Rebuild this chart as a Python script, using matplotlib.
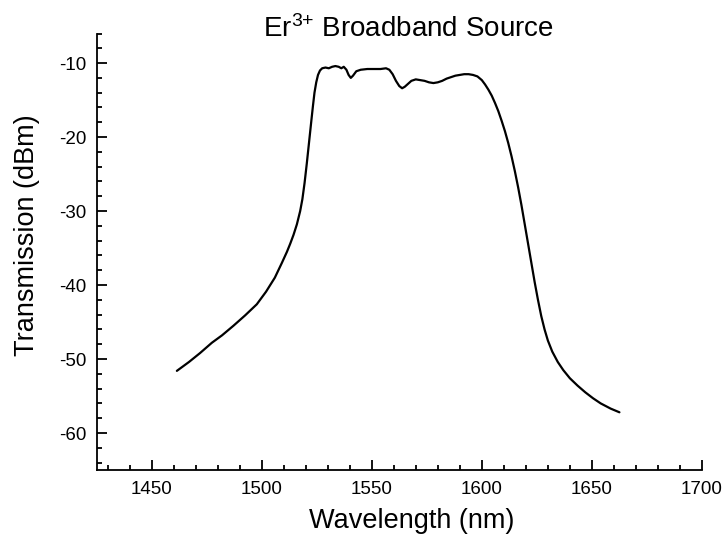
import matplotlib
matplotlib.use("Agg")
import matplotlib.pyplot as plt
from matplotlib.ticker import MultipleLocator

plt.rcParams['font.family'] = ['Liberation Sans', 'DejaVu Sans']
plt.rcParams['mathtext.fontset'] = 'custom'
plt.rcParams['mathtext.rm'] = 'Liberation Sans'
plt.rcParams['mathtext.it'] = 'Liberation Sans:italic'
plt.rcParams['axes.unicode_minus'] = False

# Wavelength (nm) and transmission (dBm)
wavelength = [1461.5, 1467, 1472, 1477.4, 1482, 1487.2, 1492.5, 1497.8, 1502, 1506,
              1509.2, 1511.5, 1513, 1514.5, 1516, 1517.5, 1518.5, 1519.5, 1520.5, 1521.5,
              1522.5, 1523.3, 1524, 1524.8, 1525.6, 1526.5, 1527.5, 1529, 1530.5, 1532,
              1533.5, 1535, 1536.2, 1537.3, 1538.5, 1539.5, 1540.5, 1541.5, 1543, 1545,
              1548, 1551, 1554, 1556.5, 1558, 1559.5, 1561, 1562.5, 1563.8, 1565,
              1566.5, 1568, 1570, 1572, 1574, 1576, 1578, 1580, 1582, 1584,
              1586, 1588, 1590, 1592, 1594, 1596, 1598, 1600, 1601.5, 1603,
              1604.5, 1606, 1607.5, 1609, 1610.5, 1612, 1613.5, 1615, 1616.5, 1618,
              1619.5, 1621, 1622.5, 1624, 1625.5, 1627, 1628.5, 1630, 1632, 1634.5,
              1637, 1640, 1643.5, 1647, 1650.5, 1654, 1658.5, 1662.5]
transmission = [-51.6, -50.4, -49.2, -47.8, -46.8, -45.5, -44.1, -42.6, -40.9, -39.0,
                -37.0, -35.5, -34.4, -33.2, -31.8, -30.0, -28.4, -26.2, -23.6, -20.8,
                -18.0, -15.8, -14.0, -12.6, -11.6, -11.0, -10.7, -10.6, -10.7, -10.5,
                -10.4, -10.5, -10.7, -10.5, -10.9, -11.6, -12.0, -11.7, -11.1, -10.9,
                -10.8, -10.8, -10.8, -10.7, -10.9, -11.5, -12.4, -13.1, -13.4, -13.2,
                -12.8, -12.4, -12.2, -12.3, -12.4, -12.6, -12.7, -12.6, -12.4, -12.1,
                -11.9, -11.7, -11.6, -11.5, -11.5, -11.6, -11.8, -12.3, -12.9, -13.6,
                -14.4, -15.4, -16.5, -17.8, -19.2, -20.8, -22.6, -24.6, -26.8, -29.2,
                -31.8, -34.4, -37.0, -39.6, -42.0, -44.2, -46.0, -47.5, -49.0, -50.4,
                -51.5, -52.6, -53.6, -54.5, -55.3, -56.0, -56.7, -57.2]

title = r'Er$^{3{+}}$ Broadband Source'
xlabel = 'Wavelength (nm)'
ylabel = 'Transmission (dBm)'

fig = plt.figure(figsize=(7.25, 5.35), dpi=100)
ax = fig.add_axes([96.5/725, 1-470/535, (702-96.5)/725, (470-33.5)/535])

ax.plot(wavelength, transmission, color='black', lw=1.6,
        solid_joinstyle='round', solid_capstyle='round')

ax.set_xlim(1425, 1700)
ax.set_ylim(-65, -6)
ax.xaxis.set_major_locator(MultipleLocator(50))
ax.xaxis.set_minor_locator(MultipleLocator(10))
ax.yaxis.set_major_locator(MultipleLocator(10))
ax.yaxis.set_minor_locator(MultipleLocator(2))

for s in ['top', 'right']:
    ax.spines[s].set_visible(False)
for s in ['left', 'bottom']:
    ax.spines[s].set_linewidth(1.3)

ax.tick_params(which='both', direction='in', width=1.3, labelsize=13.5)
ax.tick_params(which='major', length=7)
ax.tick_params(which='minor', length=3.6)
ax.tick_params(axis='x', pad=8)
ax.tick_params(axis='y', pad=7)

fig.text(408/725, 1-37/535, title, ha='center', va='baseline', fontsize=20)
fig.text(411.5/725, 1-521/535, xlabel, ha='center', va='center', fontsize=19.5)
fig.text(27/725, 1-235/535, ylabel, ha='center', va='center', rotation=90, fontsize=19.5)

fig.savefig('out.png', dpi=100)
